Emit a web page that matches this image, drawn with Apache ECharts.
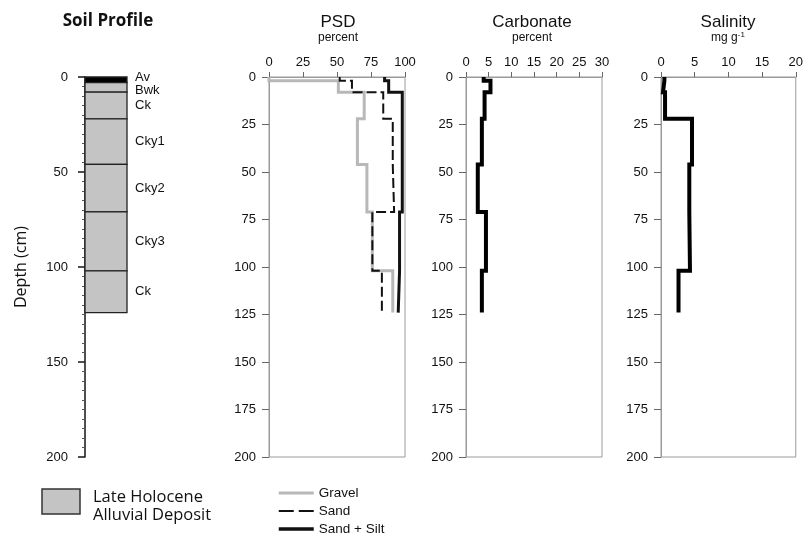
<!DOCTYPE html>
<html><head><meta charset="utf-8">
<script src="https://cdn.jsdelivr.net/npm/echarts@6/dist/echarts.min.js"></script>
<style>html,body{margin:0;padding:0;background:#fff}#c{width:806px;height:538px}</style>
</head><body><div id="c"></div>
<script>
// ---- data ----
const horizonNames = ['Av','Bwk','Ck','Cky1','Cky2','Cky3','Ck'];
const horizonTops = [0,3,8,22,46,71,102];
const profileBottom = 124;
const layerTops = [0,2,8,22,46,71,102];
const layerBottom = 124;
const gravel = [0,51,70,65,72,76,91];
const sand = [52,61,84,91,92,76,83];
const sandSilt = [85,88,98,98,98,96,95];
const carbonate = [3.9,5.4,4.1,3.5,2.6,4.4,3.5];
const salinity = [0.5,0.3,0.6,4.6,4.2,4.3,2.6];
const panelTitles = ['PSD','Carbonate','Salinity'];
const panelUnits = ['percent','percent','mg g{sup|-1}'];
const legendNames = ['Gravel','Sand','Sand + Silt'];

// ---- helpers ----
function steps(vals, tops, bottom){
  const pts=[];
  for(let i=0;i<vals.length;i++){
    const t=tops[i], b=(i+1<tops.length)?tops[i+1]:bottom;
    pts.push([vals[i],t],[vals[i],b]);
  }
  return pts;
}
const FONT='Liberation Sans, Arial, sans-serif';
const HFONT='Open Sans, Liberation Sans, sans-serif';
const TXT='#111';
const chart = echarts.init(document.getElementById('c'));

const gridTop=77, gridH=380;
const grids=[
  {left:85,top:gridTop,width:42,height:gridH,show:false},
  {left:269,top:gridTop,width:136,height:gridH,show:true,borderColor:'#9a9a9a',borderWidth:1},
  {left:466,top:gridTop,width:136,height:gridH,show:true,borderColor:'#9a9a9a',borderWidth:1},
  {left:661,top:gridTop,width:135,height:gridH,show:true,borderColor:'#9a9a9a',borderWidth:1}
];
const xMax=[1,100,30,20], xInt=[1,25,5,5];
const xAxes=grids.map((g,i)=>({
  gridIndex:i,type:'value',position:'top',min:0,max:xMax[i],interval:xInt[i],
  show:i>0,
  axisLine:{show:true,lineStyle:{color:'#9a9a9a',width:1}},
  axisTick:{show:true,length:5,lineStyle:{color:'#666'}},
  axisLabel:{fontFamily:FONT,fontSize:13,color:TXT,margin:8},
  splitLine:{show:false}
}));
const yAxes=grids.map((g,i)=>{
  const soil=i===0;
  return {
    gridIndex:i,type:'value',inverse:true,min:0,max:200,interval:soil?50:25,
    axisLine:{show:true,onZero:false,lineStyle:{color:soil?'#222':'#9a9a9a',width:soil?1.6:1}},
    axisTick:{show:true,length:7,lineStyle:{color:soil?'#222':'#666',width:soil?1.6:1}},
    minorTick:{show:soil,splitNumber:10,length:3,lineStyle:{color:'#555'}},
    axisLabel:{fontFamily:FONT,fontSize:13,color:TXT,margin:soil?17:13},
    splitLine:{show:false},
    name:soil?'Depth (cm)':'',nameLocation:'middle',nameGap:56,
    nameTextStyle:{fontFamily:HFONT,fontSize:16,color:TXT}
  };
});

const profileData=horizonNames.map((n,i)=>[i,horizonTops[i],(i+1<horizonTops.length)?horizonTops[i+1]:profileBottom]);

const series=[
  {type:'custom',xAxisIndex:0,yAxisIndex:0,data:profileData,
   renderItem:function(params,api){
     const i=api.value(0),t=api.value(1),b=api.value(2);
     const p0=api.coord([0,t]),p1=api.coord([1,b]);
     const mid=(p0[1]+p1[1])/2;
     let ty=mid,va='middle';
     if(i===0){ty=p1[1]+1;va='bottom';}
     if(i===1){ty=p0[1]+1;va='top';}
     return {type:'group',children:[
       {type:'rect',shape:{x:p0[0],y:p0[1],width:p1[0]-p0[0],height:p1[1]-p0[1]},
        style:{fill:i===0?'#000':'#c4c4c4',stroke:'#222',lineWidth:1.3}},
       {type:'text',x:p1[0]+8,y:ty,style:{text:horizonNames[i],fontFamily:FONT,fontSize:13,fill:TXT,verticalAlign:va,align:'left'}}
     ]};
   }},
  {name:legendNames[0],type:'line',xAxisIndex:1,yAxisIndex:1,data:steps(gravel,layerTops,layerBottom),
   symbol:'none',lineStyle:{color:'#b8b8b8',width:3,join:'miter'},itemStyle:{color:'#b8b8b8'},z:2},
  {name:legendNames[1],type:'line',xAxisIndex:1,yAxisIndex:1,data:steps(sand,layerTops,layerBottom),
   symbol:'none',lineStyle:{color:'#111',width:2,type:[10,4],join:'miter'},itemStyle:{color:'#111'},z:3},
  {name:legendNames[2],type:'line',xAxisIndex:1,yAxisIndex:1,data:steps(sandSilt,layerTops,layerBottom),
   symbol:'none',lineStyle:{color:'#111',width:3,join:'miter'},itemStyle:{color:'#111'},z:4},
  {name:'Carbonate',type:'line',xAxisIndex:2,yAxisIndex:2,data:steps(carbonate,layerTops,layerBottom),
   symbol:'none',lineStyle:{color:'#000',width:4,join:'miter'}},
  {name:'Salinity',type:'line',xAxisIndex:3,yAxisIndex:3,data:steps(salinity,layerTops,layerBottom),
   symbol:'none',lineStyle:{color:'#000',width:4,join:'miter'}}
];

const titleX=[338,532,728];
const graphic=[
  {type:'text',x:108,y:21,style:{text:'Soil Profile',fontFamily:HFONT,fontWeight:'bold',fontSize:17,fill:TXT,align:'center',verticalAlign:'middle'}},
  {type:'rect',shape:{x:42,y:489,width:38,height:25},style:{fill:'#c4c4c4',stroke:'#333',lineWidth:1.5}},
  {type:'text',x:93,y:497,style:{text:'Late Holocene',fontFamily:HFONT,fontSize:16.5,fill:TXT,verticalAlign:'middle'}},
  {type:'text',x:93,y:515,style:{text:'Alluvial Deposit',fontFamily:HFONT,fontSize:16.5,fill:TXT,verticalAlign:'middle'}}
];
panelTitles.forEach((t,i)=>{
  graphic.push({type:'text',x:titleX[i],y:22,style:{text:t,fontFamily:FONT,fontSize:17,fill:TXT,align:'center',verticalAlign:'middle'}});
  graphic.push({type:'text',x:titleX[i],y:38,style:{text:panelUnits[i],fontFamily:FONT,fontSize:12,fill:TXT,align:'center',verticalAlign:'middle',
    rich:{sup:{fontSize:8,verticalAlign:'top',padding:[0,0,6,0],fontFamily:FONT,fill:TXT}}}});
});

const legendLineStyles=[{width:3},{width:2,type:[15,5]},{width:3.5}];
chart.setOption({
  animation:false,
  grid:grids,xAxis:xAxes,yAxis:yAxes,series:series,graphic:graphic,
  legend:{data:legendNames.map((n,i)=>({name:n,lineStyle:legendLineStyles[i]})),
    orient:'vertical',left:277,top:486,itemWidth:35,itemHeight:14,itemGap:4,
    itemStyle:{opacity:0},
    textStyle:{fontFamily:FONT,fontSize:13.5,color:TXT},padding:0}
});
</script></body></html>
